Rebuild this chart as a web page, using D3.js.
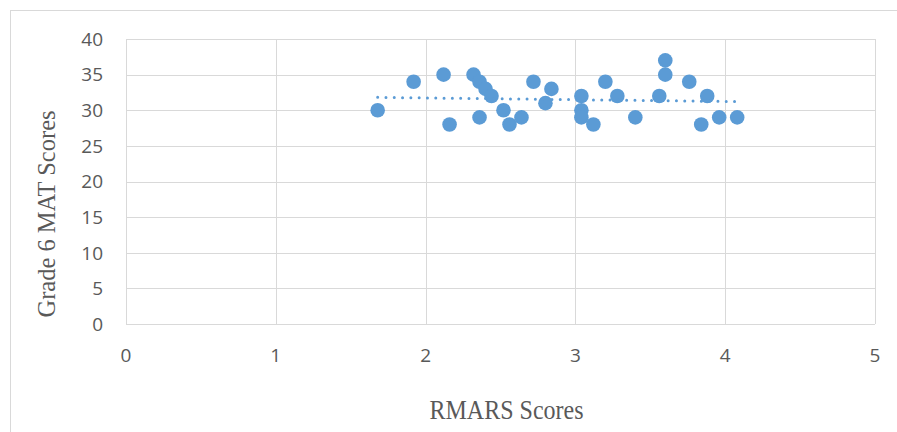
<!DOCTYPE html>
<html><head><meta charset="utf-8">
<script src="https://cdn.jsdelivr.net/npm/d3@7"></script>
<style>body{margin:0;background:#fff}svg{display:block}</style>
</head><body>
<script>
const rmars = [1.68,1.92,2.12,2.16,2.32,2.36,2.40,2.44,2.36,2.52,2.56,2.64,2.72,2.80,2.84,3.04,3.04,3.04,3.12,3.20,3.28,3.40,3.56,3.60,3.60,3.76,3.84,3.88,3.96,4.08];
const mat   = [30,  34,  35,  28,  35,  34,  33,  32,  29,  30,  28,  29,  34,  31,  33,  32,  30,  29,  28,  34,  32,  29,  32,  37,  35,  34,  28,  32,  29,  29];
const xTicks = [0,1,2,3,4,5];
const yTicks = [0,5,10,15,20,25,30,35,40];
const xTitle = "RMARS Scores";
const yTitle = "Grade 6 MAT Scores";

const W = 897, H = 432;
const svg = d3.select("body").append("svg").attr("width", W).attr("height", H);
svg.append("rect").attr("x",10.5).attr("y",10.5).attr("width",900).attr("height",440)
  .attr("fill","#fff").attr("stroke","#d9d9d9");

const x = d3.scaleLinear().domain([0,5]).range([126,875]);
const y = d3.scaleLinear().domain([0,40]).range([324,39]);

// gridlines
svg.append("g").selectAll("line").data(yTicks).join("line")
  .attr("x1",x(0)).attr("x2",x(5)).attr("y1",d=>Math.round(y(d))+0.5).attr("y2",d=>Math.round(y(d))+0.5)
  .attr("stroke","#d9d9d9").attr("stroke-width",1);
svg.append("g").selectAll("line").data(xTicks).join("line")
  .attr("y1",y(0)).attr("y2",y(40)).attr("x1",d=>Math.round(x(d))+0.5).attr("x2",d=>Math.round(x(d))+0.5)
  .attr("stroke","#d9d9d9").attr("stroke-width",1);

// tick labels
const tf = "'Open Sans', 'Noto Sans', sans-serif";
svg.append("g").selectAll("text").data(yTicks).join("text")
  .attr("x",103).attr("y",d=>y(d)+6.8).attr("text-anchor","end")
  .attr("font-family",tf).attr("font-size",19).attr("fill","#595959").text(d=>d);
svg.append("g").selectAll("text").data(xTicks).join("text")
  .attr("x",d=>x(d)).attr("y",362).attr("text-anchor","middle")
  .attr("font-family",tf).attr("font-size",19).attr("fill","#595959").text(d=>d);

// titles
svg.append("text").attr("transform","translate(506.5,419) scale(1,1.15)").attr("text-anchor","middle")
  .attr("font-family","'Liberation Serif', serif").attr("font-size",24).attr("fill","#595959").text(xTitle);
svg.append("text").attr("transform","translate(55,214) rotate(-90)").attr("text-anchor","middle")
  .attr("font-family","'Liberation Serif', serif").attr("font-size",24.5).attr("fill","#595959").text(yTitle);

// regression trendline
const n = rmars.length;
const mx = d3.mean(rmars), my = d3.mean(mat);
let sxy=0,sxx=0;
for(let i=0;i<n;i++){sxy+=(rmars[i]-mx)*(mat[i]-my);sxx+=(rmars[i]-mx)**2;}
const b = sxy/sxx, a = my-b*mx;
const x0 = d3.min(rmars), x1 = d3.max(rmars);

// points
svg.append("g").selectAll("circle").data(rmars.map((d,i)=>[d,mat[i]])).join("circle")
  .attr("cx",d=>x(d[0])).attr("cy",d=>y(d[1])).attr("r",7.3).attr("fill","#5b9bd5");

svg.append("line").attr("x1",x(x0)).attr("x2",x(x1)).attr("y1",y(a+b*x0)).attr("y2",y(a+b*x1))
  .attr("stroke","#5b9bd5").attr("stroke-width",3).attr("stroke-dasharray","0 8.3").attr("stroke-linecap","round");
</script>
</body></html>
